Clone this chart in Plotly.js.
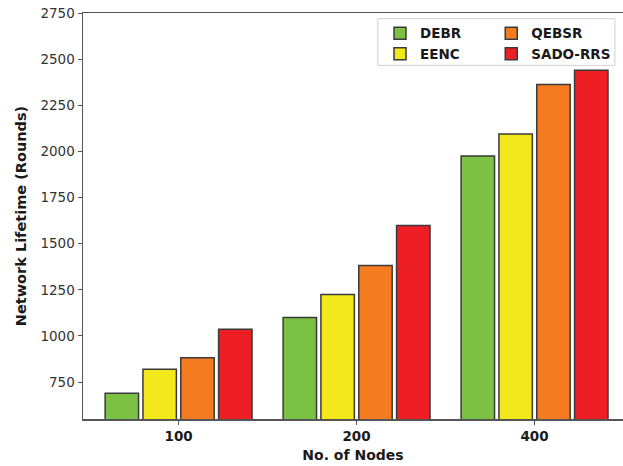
<!DOCTYPE html>
<html><head><meta charset="utf-8">
<script src="https://cdn.plot.ly/plotly-3.0.1.min.js"></script>
<style>html,body{margin:0;padding:0;background:#fff}</style></head>
<body><div id="chart" style="width:623px;height:466px"></div>
<script>
const categories = ['100', '200', '400'];
const seriesNames = ['DEBR', 'EENC', 'QEBSR', 'SADO-RRS'];
const debr = [690, 1100, 1975];
const eenc = [820, 1225, 2095];
const qebsr = [882, 1382, 2362];
const sado = [1037, 1598, 2440];
const yTickVals = [750, 1000, 1250, 1500, 1750, 2000, 2250, 2500, 2750];

const colors = ['#7bc143', '#f2e81b', '#f47b20', '#ed1f25'];
const values = [debr, eenc, qebsr, sado];
const legendIds = ['legend', 'legend', 'legend2', 'legend2'];

const traces = seriesNames.map((name, i) => ({
  type: 'bar',
  name: name,
  x: categories,
  y: values[i],
  legend: legendIds[i],
  marker: {color: colors[i], line: {color: '#3a3a3a', width: 1.5}}
}));

const legendFont = {family: 'DejaVu Sans', size: 13.5, color: '#1a1a1a', weight: 'bold'};

const layout = {
  width: 623, height: 466,
  margin: {l: 83, r: 0, t: 12.5, b: 47},
  paper_bgcolor: '#fff', plot_bgcolor: '#fff',
  barmode: 'group', bargap: 0.15, bargroupgap: 0.116,
  font: {family: 'DejaVu Sans', color: '#333'},
  xaxis: {
    type: 'category', range: [-0.537, 2.497],
    showline: true, mirror: true, linecolor: '#555', linewidth: 1.5,
    ticks: 'outside', ticklen: 4, tickcolor: '#555', tickwidth: 1,
    showgrid: false, zeroline: false,
    tickfont: {family: 'DejaVu Sans', size: 13.5, color: '#1a1a1a', weight: 'bold'},
    title: {text: 'No. of Nodes', standoff: 7, font: {family: 'DejaVu Sans', size: 14, color: '#1a1a1a', weight: 'bold'}}
  },
  yaxis: {
    range: [550, 2750], tickvals: yTickVals,
    showline: true, mirror: false, linecolor: '#555', linewidth: 1.5,
    ticks: 'outside', ticklen: 4, tickcolor: '#555', tickwidth: 1,
    showgrid: false, zeroline: false,
    tickfont: {family: 'DejaVu Sans', size: 13.5, color: '#333'},
    title: {text: 'Network Lifetime (Rounds)', standoff: 10, font: {family: 'DejaVu Sans', size: 14.5, color: '#1a1a1a', weight: 'bold'}}
  },
  legend: {x: 0.55, y: 0.988, xanchor: 'left', yanchor: 'top', bgcolor: 'rgba(0,0,0,0)', borderwidth: 0, font: legendFont, tracegroupgap: 0, itemwidth: 30},
  legend2: {x: 0.756, y: 0.988, xanchor: 'left', yanchor: 'top', bgcolor: 'rgba(0,0,0,0)', borderwidth: 0, font: legendFont, tracegroupgap: 0, itemwidth: 30},
  shapes: [{type: 'rect', xref: 'paper', yref: 'paper', x0: 0.546, x1: 0.985, y0: 0.871, y1: 0.986,
    line: {color: '#d0d0d0', width: 1}, fillcolor: 'rgba(255,255,255,0.85)', layer: 'above'}],
  showlegend: true
};

Plotly.newPlot('chart', traces, layout, {staticPlot: true, displayModeBar: false});
</script></body></html>
